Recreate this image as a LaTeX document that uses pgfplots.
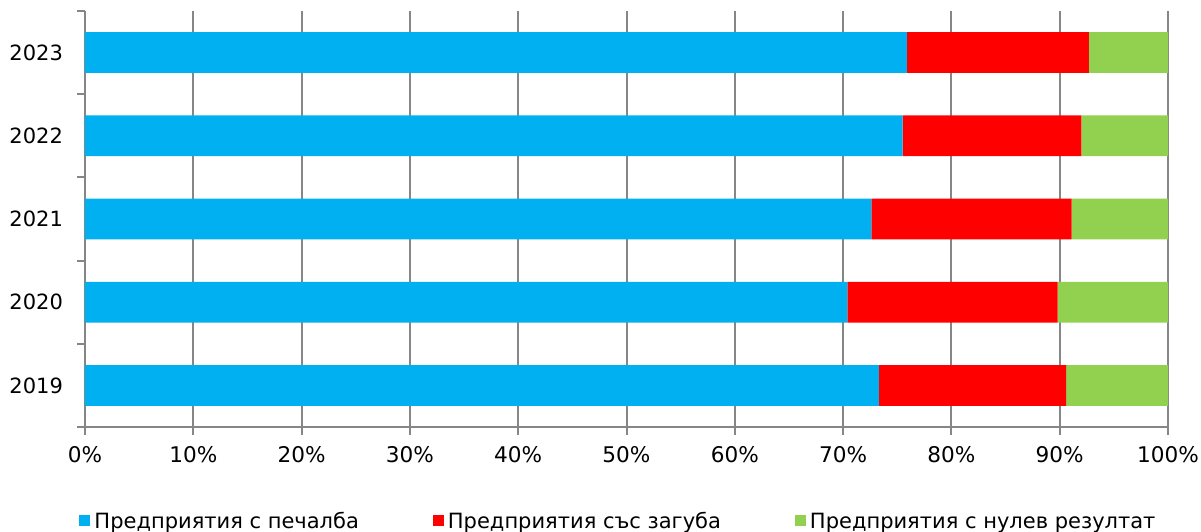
\documentclass[border=0pt]{standalone}
\usepackage{fontspec}
\setmainfont{DejaVu Sans}
\usepackage{pgfplots}
\pgfplotsset{compat=1.18}
\definecolor{cblue}{HTML}{00B0F0}
\definecolor{cred}{HTML}{FF0000}
\definecolor{cgreen}{HTML}{92D050}
\definecolor{cgrid}{HTML}{868686}
\begin{document}
\begin{tikzpicture}
\begin{axis}[
  at={(0,0)}, anchor=south west,
  scale only axis, width=541.5pt, height=208pt,
  xbar stacked, bar width=0.49,
  xmin=0, xmax=100, ymin=-0.5, ymax=4.5,
  xtick={0,10,...,100},
  xticklabels={0\%,10\%,20\%,30\%,40\%,50\%,60\%,70\%,80\%,90\%,100\%},
  xmajorgrids, grid style={cgrid, line width=1pt},
  axis x line*=bottom, axis y line*=left,
  axis line style={cgrid, line width=1pt},
  tick style={cgrid, line width=1pt},
  tick align=outside, major tick length=3.75pt,
  ytick={-0.5,0.5,...,4.5}, yticklabels={},
  extra y ticks={0,1,2,3,4},
  extra y tick labels={2019,2020,2021,2022,2023},
  extra y tick style={major tick length=0pt, ymajorgrids=false},
  yticklabel style={font=\fontsize{10.5}{12.5}\selectfont, xshift=-7.5pt},
  xticklabel style={font=\fontsize{10.8}{13}\selectfont, yshift=-2.5pt},
  legend columns=3,
  legend style={at={(0.4935,-0.228)}, anchor=center, draw=none,
    font=\fontsize{10.5}{12}\selectfont,
    /tikz/every even column/.append style={column sep=35pt},
    nodes={inner sep=2pt}},
  legend image code/.code={\fill[#1] (0pt,-2pt) rectangle (5.5pt,3.5pt);},
]
\addplot[fill=cblue, draw=none] coordinates {(73.3,0) (70.4,1) (72.6,2) (75.5,3) (75.9,4)};
\addplot[fill=cred, draw=none] coordinates {(17.3,0) (19.4,1) (18.5,2) (16.5,3) (16.8,4)};
\addplot[fill=cgreen, draw=none] coordinates {(9.4,0) (10.2,1) (8.9,2) (8.0,3) (7.3,4)};
\legend{Предприятия с печалба, Предприятия със загуба, Предприятия с нулев резултат}
\end{axis}
\pgfresetboundingbox
\path[use as bounding box] (-42.5pt,-52pt) rectangle (558pt,213.5pt);
\end{tikzpicture}
\end{document}
